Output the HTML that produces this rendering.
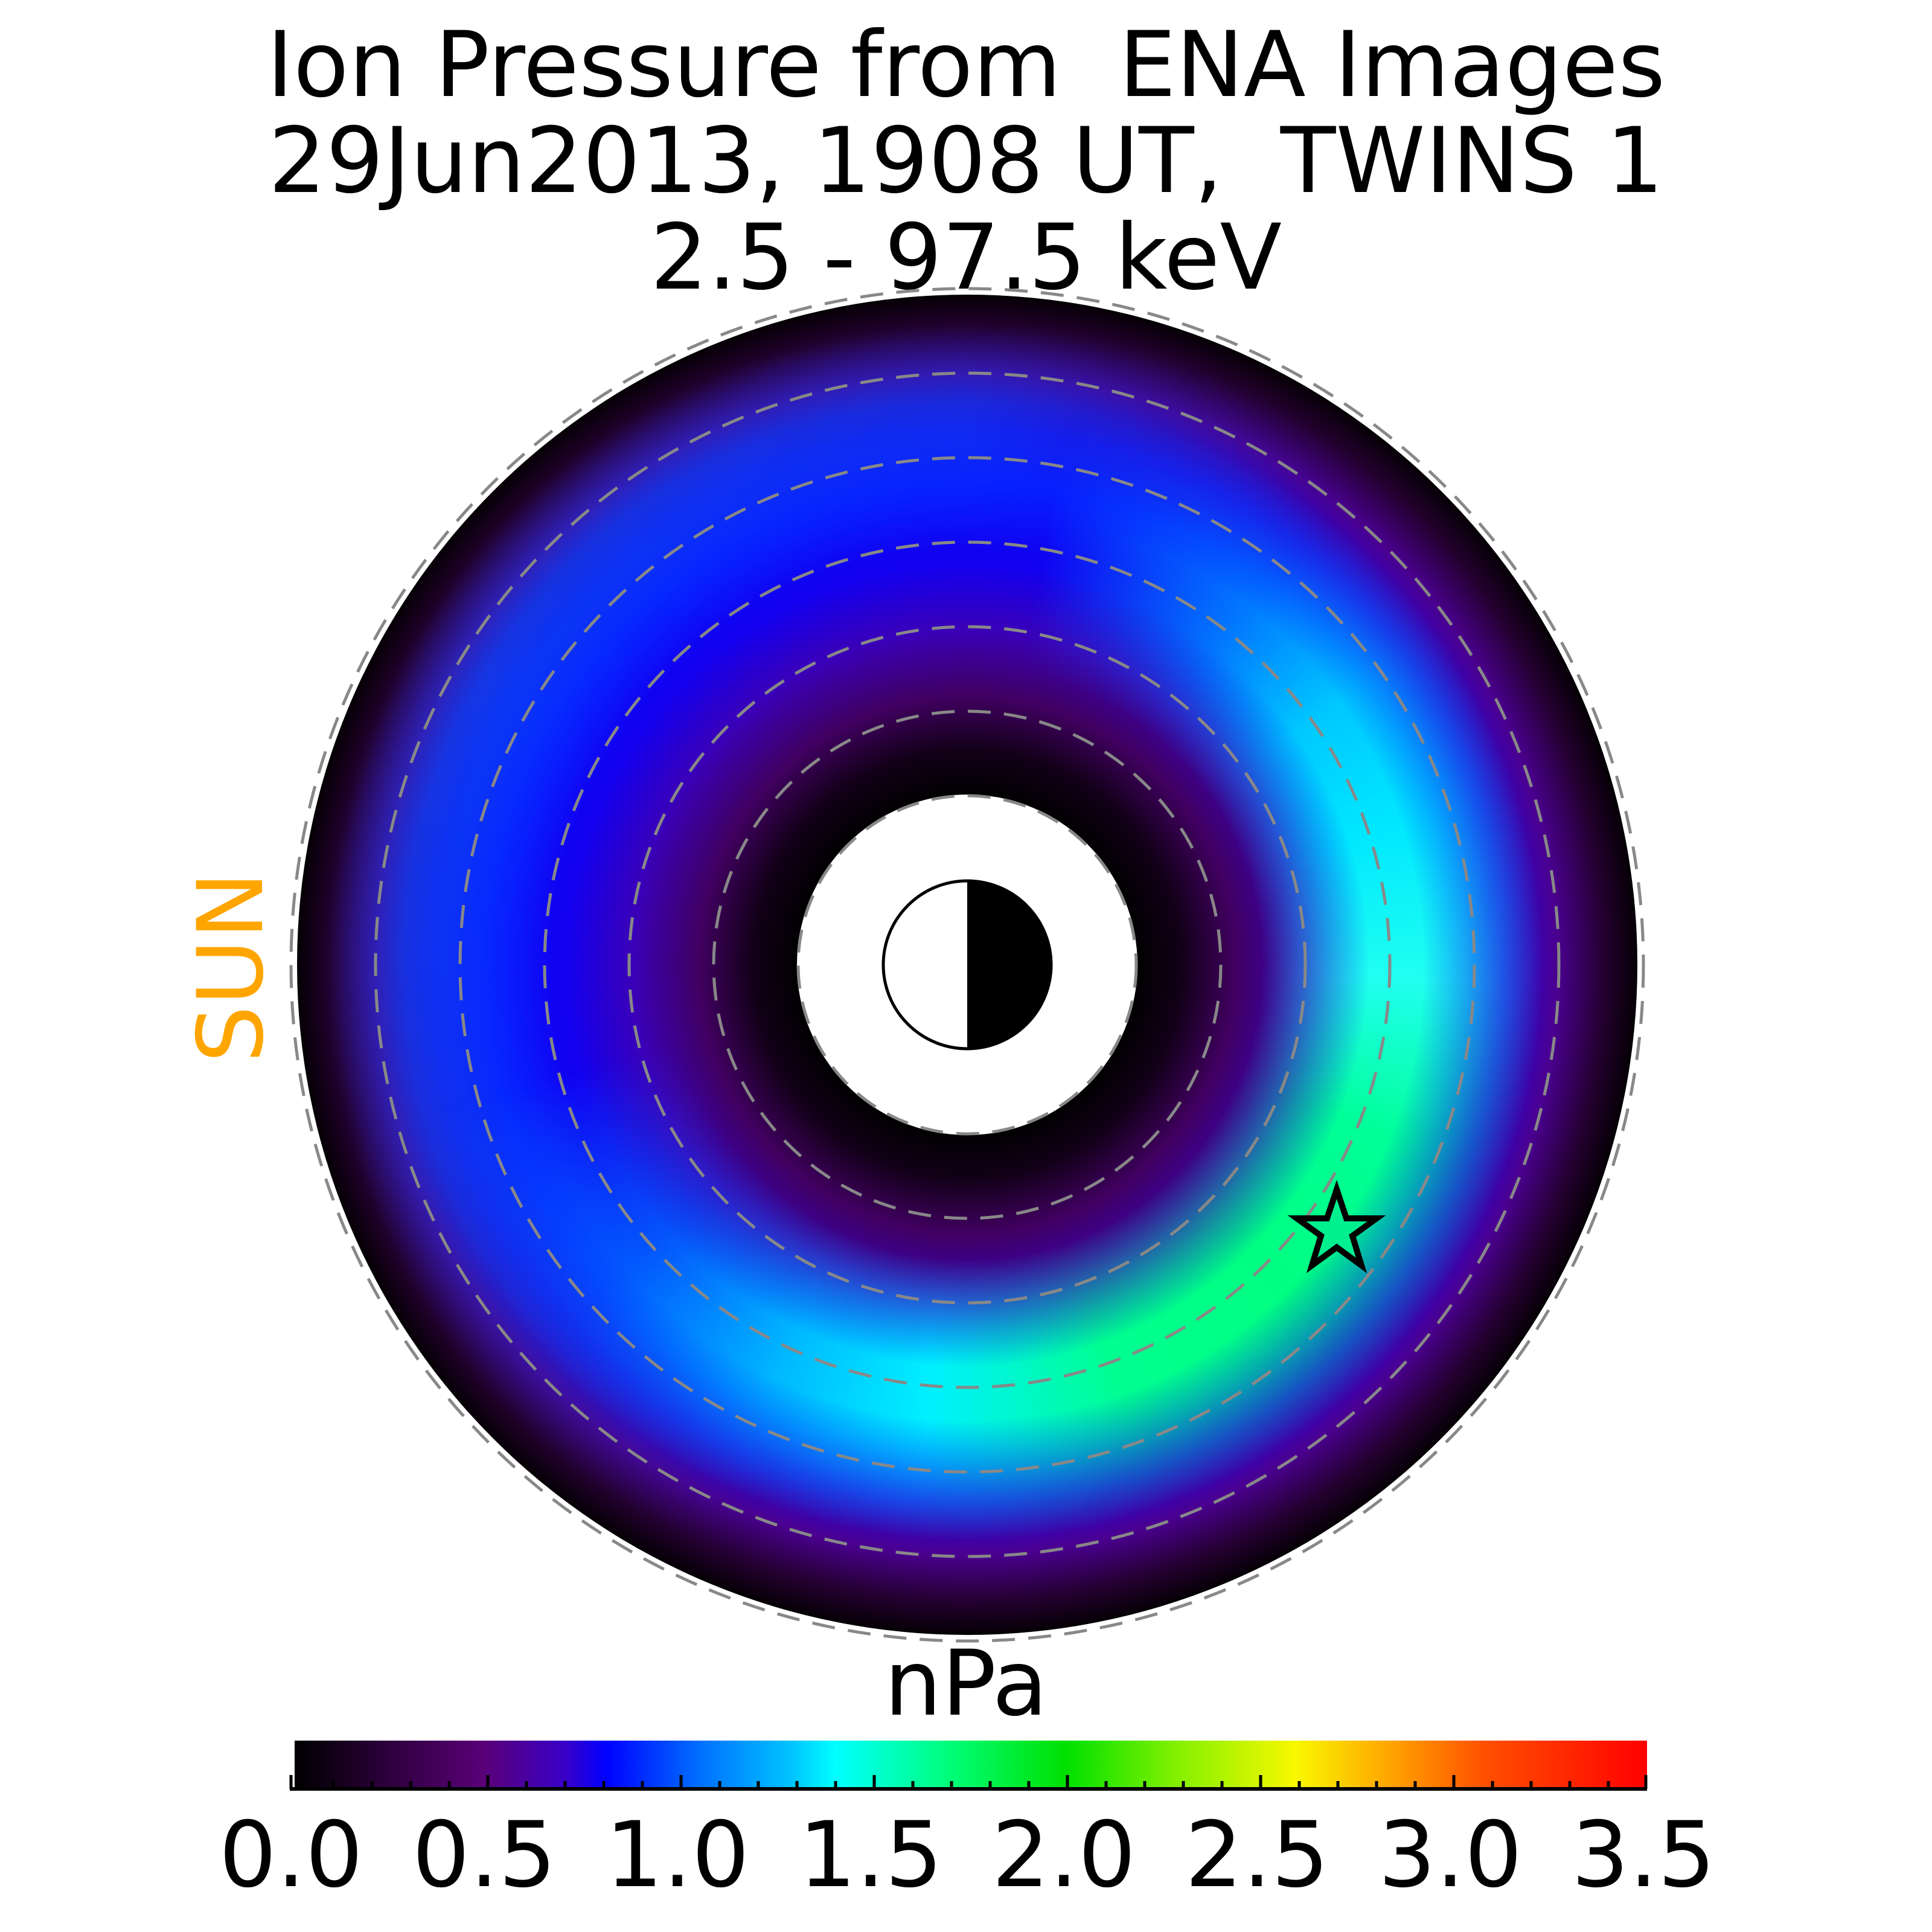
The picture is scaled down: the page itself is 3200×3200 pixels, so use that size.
<!DOCTYPE html>
<html><head><style>
html,body{margin:0;padding:0;background:#fff;}
.d{position:absolute;left:492px;top:488px;width:2220px;height:2220px;border-radius:50%;}
#base{background:radial-gradient(circle closest-side,#000 25%,#120018 32%,#400060 40%,#3a00b8 50%,#1200f0 60%,#0a10ff 72%,#2200e0 80%,#4a0090 88%,#240030 95%,#050005 100%);}
#left{background:conic-gradient(from 0deg, rgba(0,80,255,0.5) 0deg, rgba(0,80,255,0) 40deg, rgba(0,80,255,0) 200deg, rgba(0,90,255,0.5) 250deg, rgba(0,90,255,0.6) 300deg, rgba(0,80,255,0.5) 360deg);
-webkit-mask-image:radial-gradient(circle closest-side,transparent 62%,#000 78%,#000 84%,transparent 96%);mask-image:radial-gradient(circle closest-side,transparent 62%,#000 78%,#000 84%,transparent 96%);}
#bright{background:conic-gradient(from 0deg, rgba(0,100,255,0) 10deg, rgba(0,140,255,0.85) 38deg, #00c8ff 55deg, #00e8ff 72deg, #20fff0 92deg, #00ff98 112deg, #00ff80 135deg, #00ff90 160deg, #00f0ff 185deg, #00b8ff 205deg, rgba(0,120,255,0.7) 228deg, rgba(0,100,255,0) 255deg);
-webkit-mask-image:radial-gradient(circle closest-side,transparent 44%,#000 60%,#000 68%,transparent 86%);mask-image:radial-gradient(circle closest-side,transparent 44%,#000 60%,#000 68%,transparent 86%);}
svg{position:absolute;left:0;top:0;display:block;}
text{font-family:"DejaVu Sans","Liberation Sans",sans-serif;white-space:pre;}
</style></head><body>
<div class="d" id="base"></div>
<div class="d" id="left"></div>
<div class="d" id="bright"></div>
<svg width="3200" height="3200" viewBox="0 0 3200 3200" xmlns="http://www.w3.org/2000/svg">
<defs>
<linearGradient id="cb" x1="0" x2="1" y1="0" y2="0">
<stop offset="0" stop-color="#000000"/>
<stop offset="0.14" stop-color="#5a0078"/>
<stop offset="0.20" stop-color="#3a00c8"/>
<stop offset="0.23" stop-color="#0000ff"/>
<stop offset="0.30" stop-color="#0070ff"/>
<stop offset="0.37" stop-color="#00c8ff"/>
<stop offset="0.40" stop-color="#00ffff"/>
<stop offset="0.48" stop-color="#00ff80"/>
<stop offset="0.57" stop-color="#00e000"/>
<stop offset="0.65" stop-color="#80f000"/>
<stop offset="0.74" stop-color="#f8f800"/>
<stop offset="0.80" stop-color="#ffb000"/>
<stop offset="0.88" stop-color="#ff5000"/>
<stop offset="1" stop-color="#ff0000"/>
</linearGradient>
</defs>

<text x="1600" y="159" font-size="150" text-anchor="middle" xml:space="preserve">Ion Pressure from  ENA Images</text>
<text x="1600" y="318" font-size="150" text-anchor="middle" xml:space="preserve">29Jun2013, 1908 UT,  TWINS 1</text>
<text x="1600" y="478" font-size="150" text-anchor="middle">2.5 - 97.5 keV</text>

<circle cx="1602" cy="1598" r="282" fill="#fff"/>

<g fill="none" stroke="#888" stroke-width="5" stroke-dasharray="38,22">
<circle cx="1602" cy="1598" r="280"/>
<circle cx="1602" cy="1598" r="420"/>
<circle cx="1602" cy="1598" r="560"/>
<circle cx="1602" cy="1598" r="700"/>
<circle cx="1602" cy="1598" r="840"/>
<circle cx="1602" cy="1598" r="980"/>
<circle cx="1602" cy="1598" r="1120"/>
</g>

<path d="M1602,1459 A139,139 0 0,1 1602,1737 Z" fill="#000"/>
<circle cx="1602" cy="1598" r="139" fill="none" stroke="#000" stroke-width="5"/>

<polygon points="2214,1970 2230,2018 2280,2018 2240,2047 2255,2096 2214,2066 2173,2096 2188,2047 2148,2018 2198,2018" fill="#00f090" stroke="#000" stroke-width="10"/>

<text x="434" y="1602" font-size="150" fill="#ffa500" text-anchor="middle" transform="rotate(-90 434 1602)">SUN</text>

<text x="1600" y="2840" font-size="150" text-anchor="middle">nPa</text>

<rect x="488" y="2883" width="2240" height="78" fill="url(#cb)"/>
<line x1="480" y1="2963" x2="2728" y2="2963" stroke="#000" stroke-width="6"/>
<g stroke="#000" stroke-width="5">
<line x1="482" y1="2940" x2="482" y2="2963"/>
<line x1="552" y1="2950" x2="552" y2="2963"/><line x1="616" y1="2950" x2="616" y2="2963"/><line x1="680" y1="2950" x2="680" y2="2963"/><line x1="744" y1="2950" x2="744" y2="2963"/>
<line x1="808" y1="2940" x2="808" y2="2963"/>
<line x1="872" y1="2950" x2="872" y2="2963"/><line x1="936" y1="2950" x2="936" y2="2963"/><line x1="1000" y1="2950" x2="1000" y2="2963"/><line x1="1064" y1="2950" x2="1064" y2="2963"/>
<line x1="1128" y1="2940" x2="1128" y2="2963"/>
<line x1="1192" y1="2950" x2="1192" y2="2963"/><line x1="1256" y1="2950" x2="1256" y2="2963"/><line x1="1320" y1="2950" x2="1320" y2="2963"/><line x1="1384" y1="2950" x2="1384" y2="2963"/>
<line x1="1448" y1="2940" x2="1448" y2="2963"/>
<line x1="1512" y1="2950" x2="1512" y2="2963"/><line x1="1576" y1="2950" x2="1576" y2="2963"/><line x1="1640" y1="2950" x2="1640" y2="2963"/><line x1="1704" y1="2950" x2="1704" y2="2963"/>
<line x1="1768" y1="2940" x2="1768" y2="2963"/>
<line x1="1832" y1="2950" x2="1832" y2="2963"/><line x1="1896" y1="2950" x2="1896" y2="2963"/><line x1="1960" y1="2950" x2="1960" y2="2963"/><line x1="2024" y1="2950" x2="2024" y2="2963"/>
<line x1="2088" y1="2940" x2="2088" y2="2963"/>
<line x1="2152" y1="2950" x2="2152" y2="2963"/><line x1="2216" y1="2950" x2="2216" y2="2963"/><line x1="2280" y1="2950" x2="2280" y2="2963"/><line x1="2344" y1="2950" x2="2344" y2="2963"/>
<line x1="2408" y1="2940" x2="2408" y2="2963"/>
<line x1="2472" y1="2950" x2="2472" y2="2963"/><line x1="2536" y1="2950" x2="2536" y2="2963"/><line x1="2600" y1="2950" x2="2600" y2="2963"/><line x1="2664" y1="2950" x2="2664" y2="2963"/>
<line x1="2726" y1="2940" x2="2726" y2="2963"/>
</g>
<g font-size="150" text-anchor="middle">
<text x="482" y="3124">0.0</text>
<text x="802" y="3124">0.5</text>
<text x="1122" y="3124">1.0</text>
<text x="1442" y="3124">1.5</text>
<text x="1762" y="3124">2.0</text>
<text x="2082" y="3124">2.5</text>
<text x="2402" y="3124">3.0</text>
<text x="2722" y="3124">3.5</text>
</g>
</svg>
</body></html>
